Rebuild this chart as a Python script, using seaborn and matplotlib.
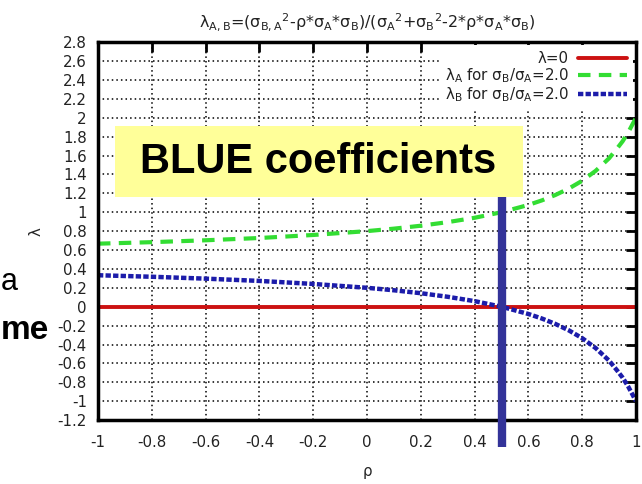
#!/usr/bin/env python
"""
BLUE coefficients lambda_A / lambda_B versus correlation rho (gnuplot look).
"""

import numpy as np
import pandas as pd
import matplotlib
matplotlib.use("Agg")
import matplotlib.pyplot as plt
import seaborn as sns
from matplotlib.patches import Rectangle

# values
rho = [-1.0, -0.8, -0.6, -0.4, -0.2, 0.0, 0.1, 0.2, 0.3, 0.4, 0.5,
       0.6, 0.65, 0.7, 0.75, 0.8, 0.85, 0.9, 0.93, 0.95, 0.97, 1.0]
lam_a = [0.667, 0.683, 0.703, 0.727, 0.759, 0.800, 0.826, 0.857, 0.895, 0.941, 1.000,
         1.077, 1.125, 1.182, 1.250, 1.333, 1.438, 1.571, 1.676, 1.750, 1.840, 2.000]
lam_b = [0.333, 0.317, 0.297, 0.273, 0.241, 0.200, 0.174, 0.143, 0.105, 0.059, 0.000,
         -0.077, -0.125, -0.182, -0.250, -0.333, -0.438, -0.571, -0.676, -0.750, -0.840, -1.000]
lam_zero = [0.0] * len(rho)
rho_blue = 0.5

x_ticks = [-1, -0.8, -0.6, -0.4, -0.2, 0, 0.2, 0.4, 0.6, 0.8, 1]
y_ticks = [-1.2, -1, -0.8, -0.6, -0.4, -0.2, 0, 0.2, 0.4, 0.6, 0.8, 1,
           1.2, 1.4, 1.6, 1.8, 2, 2.2, 2.4, 2.6, 2.8]


def fmt(v):
    return f"{v:g}"


def run():
    sns.set_style("white")
    plt.rcParams["font.family"] = ["DejaVu Sans"]
    plt.rcParams["mathtext.default"] = "regular"
    plt.rcParams["text.color"] = "#222222"

    df = pd.DataFrame({"rho": rho, "a": lam_a, "b": lam_b, "z": lam_zero})

    fig = plt.figure(figsize=(6.42, 4.84), dpi=100)
    ax = fig.add_axes([0.1526, 0.132, 0.8381, 0.781])

    sns.lineplot(data=df, x="rho", y="z", ax=ax, color="#cc1111", lw=2.8,
                 label="λ=0")
    sns.lineplot(data=df, x="rho", y="a", ax=ax, color="#33dd33", lw=3,
                 label="λ$_A$ for σ$_B$/σ$_A$=2.0")
    ax.lines[-1].set_linestyle((0, (3, 2)))
    sns.lineplot(data=df, x="rho", y="b", ax=ax, color="#1c1caa", lw=3.2,
                 label="λ$_B$ for σ$_B$/σ$_A$=2.0")
    ax.lines[-1].set_linestyle((0, (1.2, 0.5)))

    ax.set_xlim(-1, 1)
    ax.set_ylim(-1.2, 2.8)
    ax.set_xticks(x_ticks)
    ax.set_xticklabels([fmt(v) for v in x_ticks])
    ax.set_yticks(y_ticks)
    ax.set_yticklabels([fmt(v) for v in y_ticks])
    ax.tick_params(direction="in", top=True, right=True, length=7, width=2,
                   labelsize=10.8, colors="black", labelcolor="#222222")
    ax.tick_params(axis="x", pad=11)
    ax.tick_params(axis="y", pad=8)
    ax.grid(True, color="black", ls=(0, (1, 2)), lw=1.1)
    for spine in ax.spines.values():
        spine.set_linewidth(2.5)
        spine.set_color("black")

    ax.set_xlabel("ρ", fontsize=10.8, labelpad=10)
    ax.set_ylabel("λ", fontsize=10.8, labelpad=10)
    ax.set_title("λ$_{A,B}$=(σ$_{B,A}$$^2$-ρ*σ$_A$*σ$_B$)/(σ$_A$$^2$+σ$_B$$^2$-2*ρ*σ$_A$*σ$_B$)",
                 fontsize=11.5, pad=11, x=0.5)

    leg = ax.legend(loc="upper right", markerfirst=False, frameon=True,
                    fontsize=10.8, handlelength=3.3, borderaxespad=0.2,
                    labelspacing=0.02, handletextpad=0.6)
    leg.get_frame().set_facecolor("white")
    leg.get_frame().set_edgecolor("none")
    leg.get_frame().set_alpha(1)
    for t in leg.get_texts():
        t.set_ha("right")
    leg._legend_box.align = "right"

    # vertical marker at rho = 0.5
    ax.plot([rho_blue, rho_blue], [1.16, -1.48], color="#333399", lw=6,
            clip_on=False, zorder=5, solid_capstyle="butt")

    # yellow label box
    fig.patches.append(Rectangle((115 / 642, 1 - 197 / 484), 408 / 642, 71 / 484,
                                 transform=fig.transFigure, facecolor="#ffff99",
                                 edgecolor="none", zorder=6))
    fig.text(318 / 642, 1 - 162 / 484, "BLUE coefficients", ha="center", va="center",
             fontsize=30, fontweight="bold", family="Liberation Sans", color="black",
             zorder=7)

    # fragments of slide text at the left edge
    fig.text(0.5 / 642, 1 - 290 / 484, "a", ha="left", va="baseline",
             fontsize=22, family="Liberation Sans", color="black")
    fig.text(1 / 642, 1 - 339 / 484, "me", ha="left", va="baseline",
             fontsize=24, fontweight="bold", family="Liberation Sans", color="black")

    fig.patch.set_facecolor("w")
    fig.savefig("out.png", dpi=100)


if __name__ == "__main__":
    run()
